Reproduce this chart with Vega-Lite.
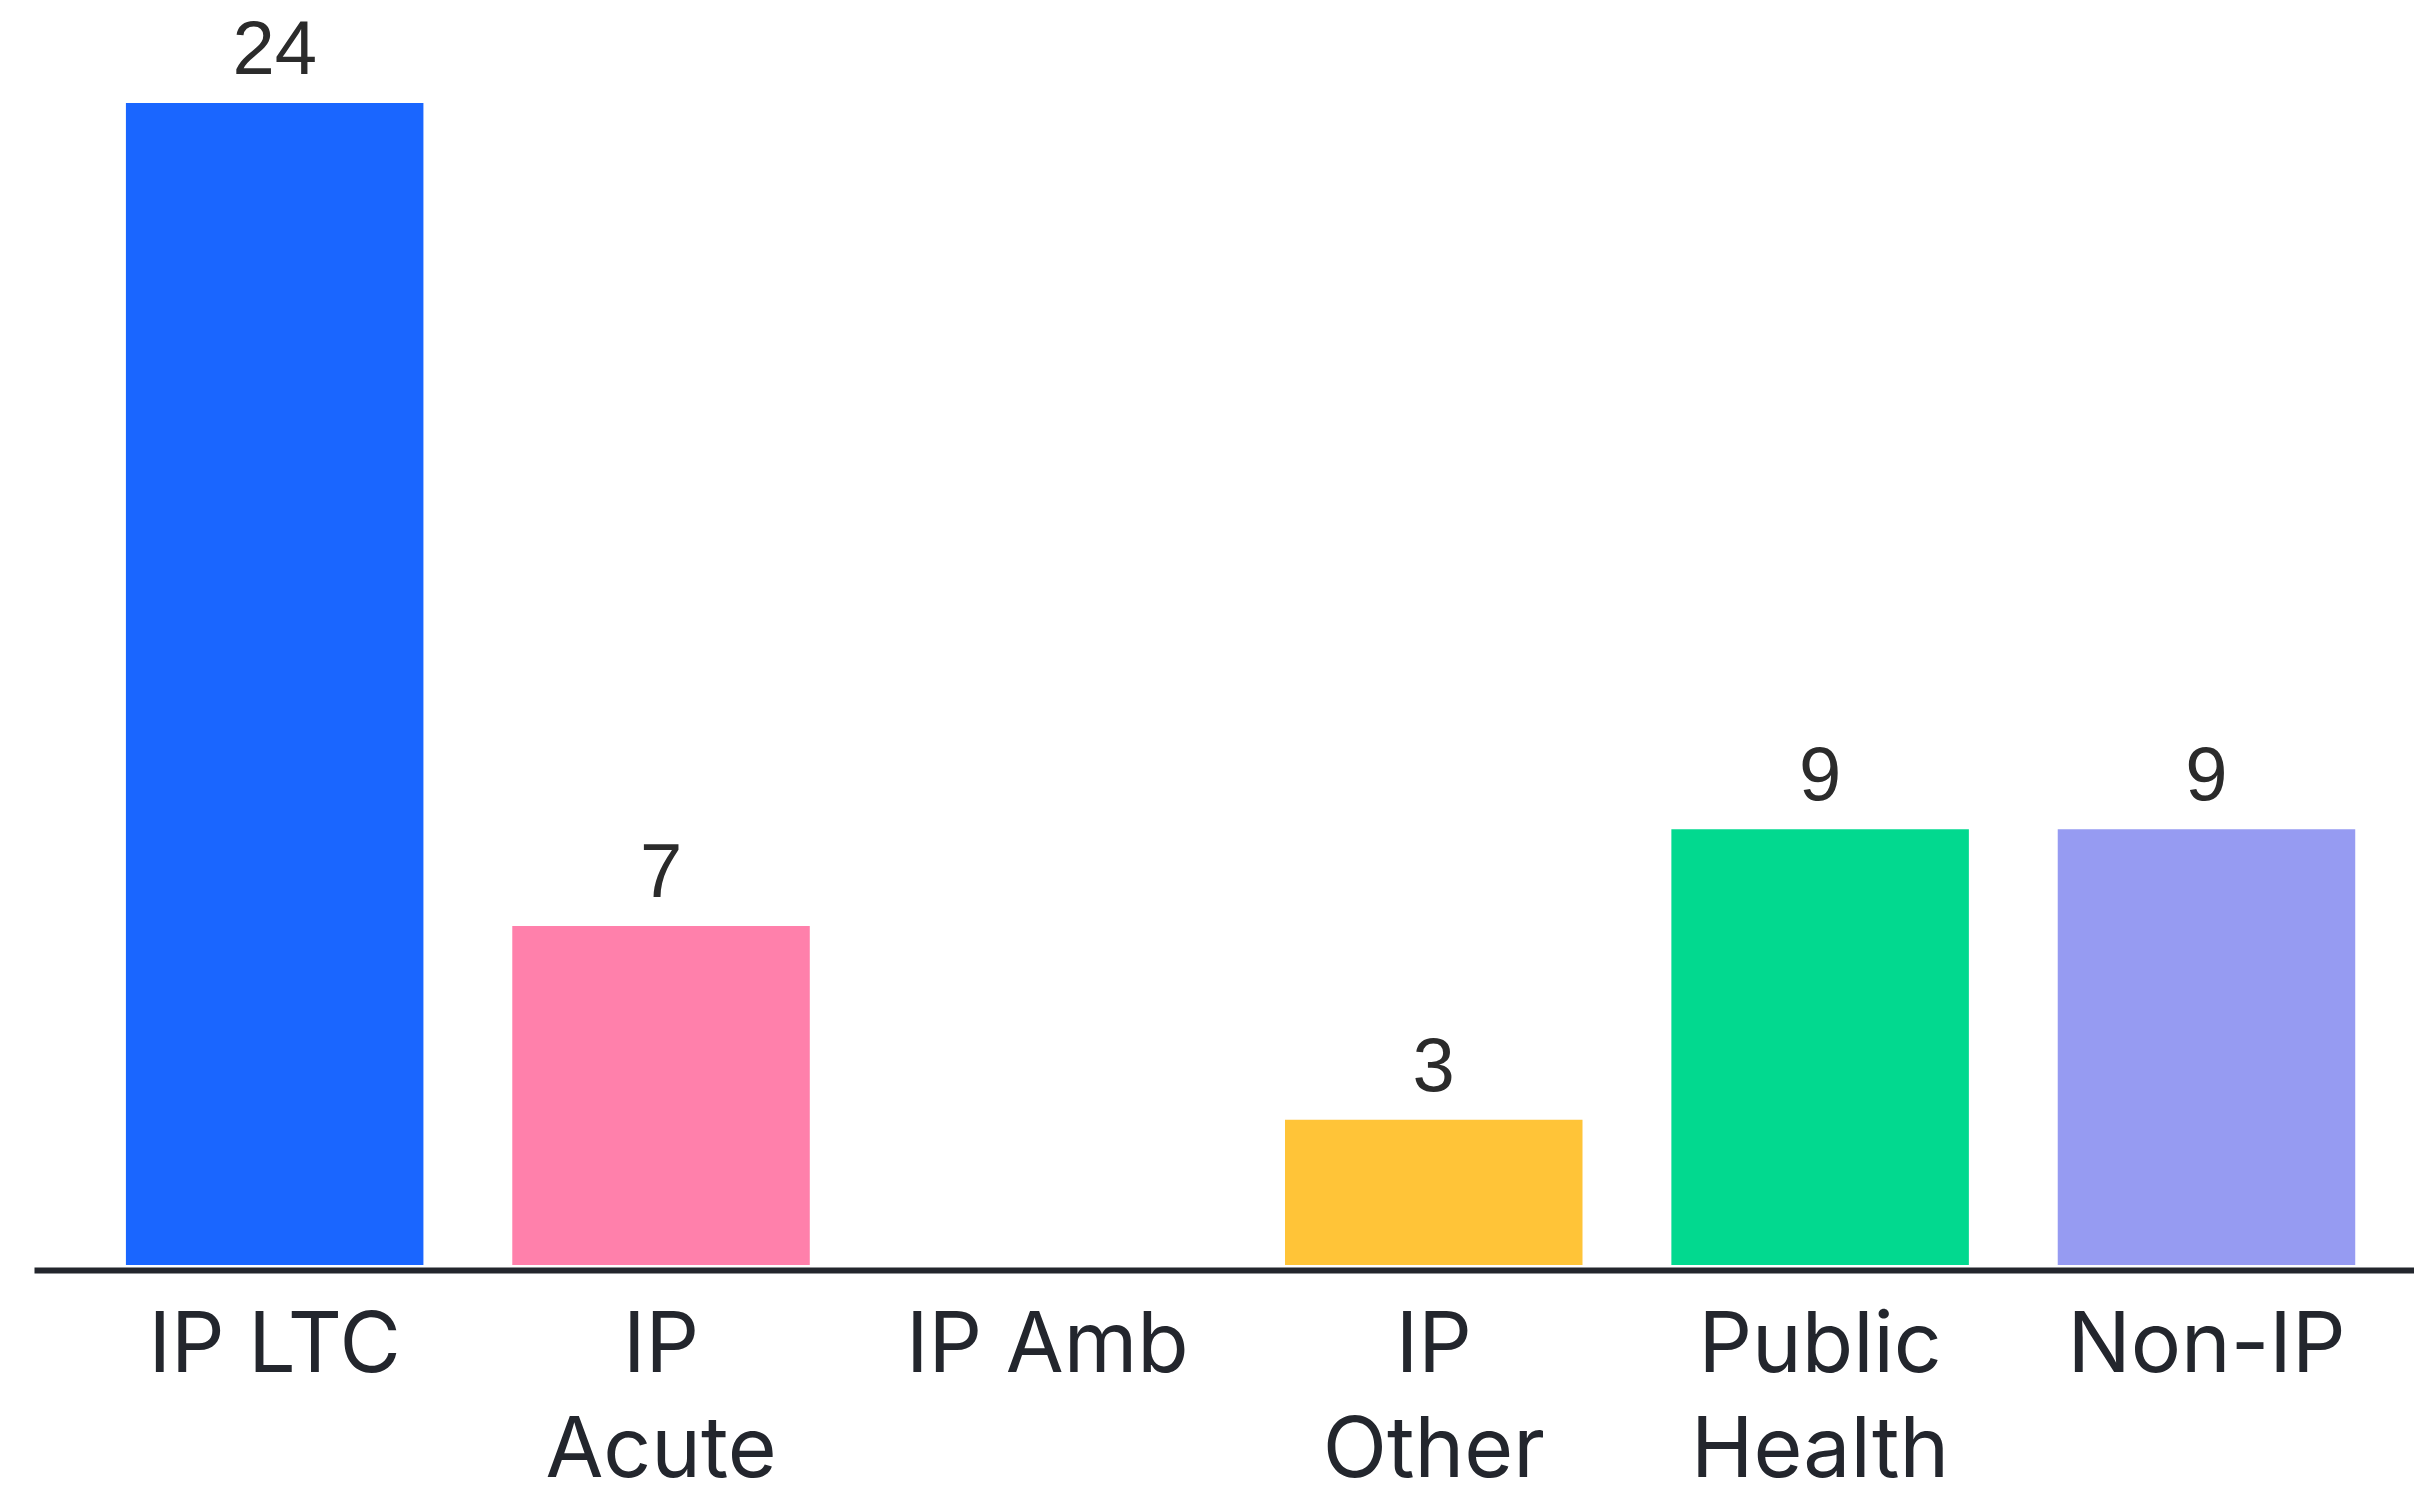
{
  "$schema": "https://vega.github.io/schema/vega-lite/v6.json",
  "width": 2380,
  "height": 1162,
  "autosize": {"type": "none"},
  "padding": {"left": 34, "top": 103, "right": 0, "bottom": 225},
  "background": "#ffffff",
  "config": {"view": {"stroke": null}},
  "data": {
    "values": [
      {"category": "IP LTC", "value": 24},
      {"category": "IP Acute", "value": 7},
      {"category": "IP Amb", "value": 0},
      {"category": "IP Other", "value": 3},
      {"category": "Public Health", "value": 9},
      {"category": "Non-IP", "value": 9}
    ]
  },
  "encoding": {
    "x": {
      "field": "category",
      "type": "nominal",
      "sort": null,
      "scale": {"paddingInner": 0.23, "paddingOuter": 0.195, "align": 0.61},
      "axis": {
        "title": null,
        "ticks": false,
        "domainColor": "#23262d",
        "domainWidth": 6,
        "offset": 5,
        "labelAngle": 0,
        "labelFont": "Inter",
        "labelFontSize": 84,
        "labelColor": "#23262d",
        "labelPadding": 35,
        "labelBaseline": "top",
        "labelLineHeight": 105,
        "labelLimit": 0,
        "labelExpr": "indexof(['IP Acute','IP Other','Public Health'], datum.label) >= 0 ? split(datum.label, ' ') : datum.label"
      }
    },
    "y": {
      "field": "value",
      "type": "quantitative",
      "scale": {"domain": [0, 24], "nice": false},
      "axis": null
    }
  },
  "layer": [
    {
      "mark": {"type": "bar"},
      "encoding": {
        "color": {
          "field": "category",
          "type": "nominal",
          "sort": null,
          "scale": {
            "domain": ["IP LTC", "IP Acute", "IP Amb", "IP Other", "Public Health", "Non-IP"],
            "range": ["#1A66FF", "#FF80AB", "#CCCCCC", "#FFC438", "#02D98F", "#969BF2"]
          },
          "legend": null
        }
      }
    },
    {
      "transform": [{"filter": "datum.value > 0"}],
      "mark": {
        "type": "text",
        "font": "Liberation Sans",
        "fontSize": 76,
        "color": "#2b2b2b",
        "baseline": "alphabetic",
        "dy": -29
      },
      "encoding": {"text": {"field": "value", "type": "quantitative"}}
    }
  ]
}
